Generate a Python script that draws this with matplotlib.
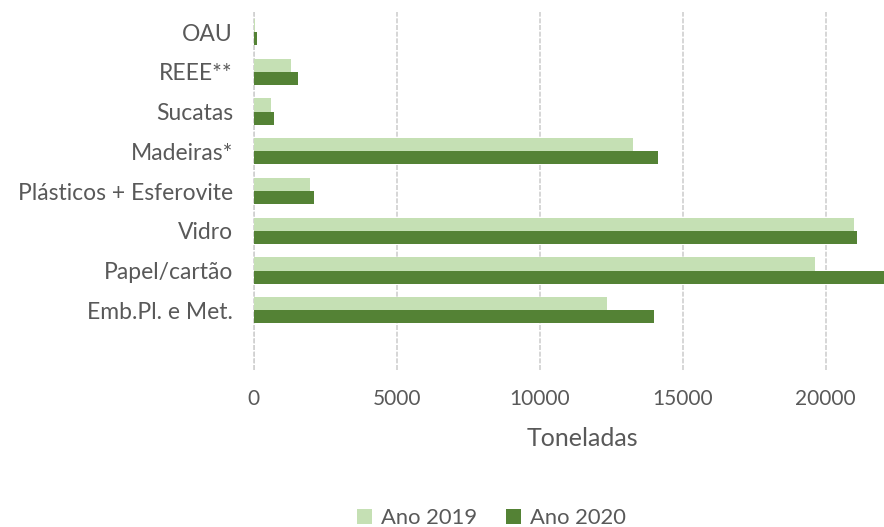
import matplotlib.pyplot as plt
import numpy as np

categories = ["OAU", "REEE**", "Sucatas", "Madeiras*", "Plásticos + Esferovite",
              "Vidro", "Papel/cartão", "Emb.Pl. e Met."]
ano_2019 = [50, 1310, 620, 13250, 1980, 21000, 19620, 12360]
ano_2020 = [110, 1540, 700, 14150, 2120, 21100, 22100, 14000]

COLOR_2019 = "#C5E0B4"
COLOR_2020 = "#548235"
TEXT = "#595959"
GRID = "#D0D0D0"

plt.rcParams['font.family'] = ['Lato', 'DejaVu Sans']

fig = plt.figure(figsize=(8.84, 5.27), dpi=100)
# plot area runs a little past the right edge of the image, as in the original crop
ax = fig.add_axes([0.287, 0.298, 0.744, 0.679])

y = np.arange(len(categories))[::-1] + 1.0
h = 0.33
ax.barh(y + h / 2, ano_2019, height=h, color=COLOR_2019, label="Ano 2019")
ax.barh(y - h / 2, ano_2020, height=h, color=COLOR_2020, label="Ano 2020")

ax.set_yticks(y)
ax.set_yticklabels(categories, fontsize=16.5, color=TEXT)
ax.set_ylim(-0.5, len(categories) + 0.5)
ax.set_xlim(0, 23000)
ax.set_xticks([0, 5000, 10000, 15000, 20000])
ax.tick_params(axis='x', labelsize=15, labelcolor=TEXT, length=0, pad=14)
ax.tick_params(axis='y', length=0, pad=15)
ax.set_xlabel("Toneladas", fontsize=18, color=TEXT, labelpad=13)

ax.grid(axis='x', color=GRID, linewidth=1.2, linestyle=(0, (3, 1)))
ax.axvline(0, color=GRID, linewidth=1.2, linestyle=(0, (3, 1)), clip_on=False, zorder=0)
ax.set_axisbelow(True)
for s in ax.spines.values():
    s.set_visible(False)

fig.legend(loc="lower center", bbox_to_anchor=(0.556, -0.04), ncol=2, frameon=False,
           fontsize=15.8, labelcolor=TEXT, handlelength=0.7, handleheight=0.7,
           handletextpad=0.4, columnspacing=1.3)

fig.savefig("out.png", dpi=100)
